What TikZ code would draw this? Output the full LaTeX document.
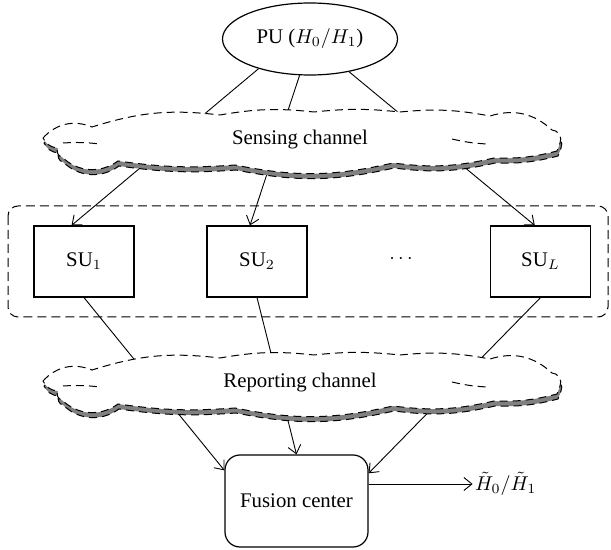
\documentclass[tikz,border=0pt]{standalone}
\usepackage{fontspec}
\setmainfont{Liberation Serif}
\usetikzlibrary{arrows.meta, shapes.geometric}
\tikzset{>={Straight Barb[length=4pt, width=6.5pt]}}
\tikzset{
    subox/.style={draw, line width=.6pt, minimum width=50pt, minimum height=35.5pt, inner sep=0pt},
    cloudline/.style={line width=.5pt, dash pattern=on 4pt off 2.5pt},
    group/.style={line width=.5pt, dash pattern=on 4.5pt off 2.5pt, rounded corners=5pt},
    link/.style={line width=.45pt}
}
% outline of one channel cloud (pixel units, y down)
\newcommand{\cloudpath}{(43,138) to[bend left=35] (92,127) to[bend left=12] (220,115)
    to[bend left=8] (314,112) to[bend left=6] (400,112) to[bend left=8] (490,116)
    to[bend left=30] (552,130) to[bend left=60] (560,143) -- (557,151)
    to[bend left=8] (494,158) to[bend left=10] (393,163) to[bend left=12] (235,165)
    to[bend left=6] (118,161) to[bend left=40] (62,157) to[bend left=60] (58,148)
    to[bend left=30] cycle}
\newcommand{\drawcloud}[1]{
    \begin{scope}[shift={(0,#1)}]
        \draw[cloudline, fill=gray, shift={(1,5)}] \cloudpath;
        \draw[cloudline, fill=white] \cloudpath;
        \draw[cloudline] (63,143) to[bend left=5] (100,144);
        \draw[cloudline] (452,139) to[bend right=5] (487,144);
    \end{scope}
}

\begin{document}
\begin{tikzpicture}[x=.5pt, y=-.5pt, font=\fontsize{10.4}{12.5}\selectfont]
    \useasboundingbox (0,0) rectangle (611,550);
    \node[ellipse, draw, line width=.6pt, minimum width=87.5pt, minimum height=36pt, inner sep=0pt] (pu) at (310,39) {PU ($H_0/H_1$)};
    \node[subox] (su1) at (84,261.5) {SU$_1$};
    \node[subox] (su2) at (257,261.5) {SU$_2$};
    \node (dots) at (401,259) {$\cdots$};
    \node[subox] (sul) at (540.5,261.5) {SU$_L$};
    \draw[group] (8,206) rectangle (608,317);
    \node[draw, line width=.6pt, rounded corners=7.5pt, minimum width=71.5pt, minimum height=46pt] (fc) at (296.5,501) {Fusion center};
    % sensing links
    \draw[link, ->] (pu.210) -- (su1.109);
    \draw[link, ->] (pu.254) -- (su2.101);
    \draw[link, ->] (pu.320) -- (sul.99);
    % reporting links
    \draw[link, ->] (su1.south) -- (fc.157);
    \draw[link, ->] (su2.south) -- (fc.north);
    \draw[link, ->] (sul.south) -- (fc.21);
    \drawcloud{0}
    \drawcloud{243}
    \node (sensing) at (300,140) {Sensing channel};
    \node (reporting) at (300,383) {Reporting channel};
    \draw[link, ->] ([yshift=8.5pt]fc.east) -- ++(104,0) node[right, inner sep=1pt] (decision) {$\tilde{H}_0/\tilde{H}_1$};
\end{tikzpicture}
\end{document}
